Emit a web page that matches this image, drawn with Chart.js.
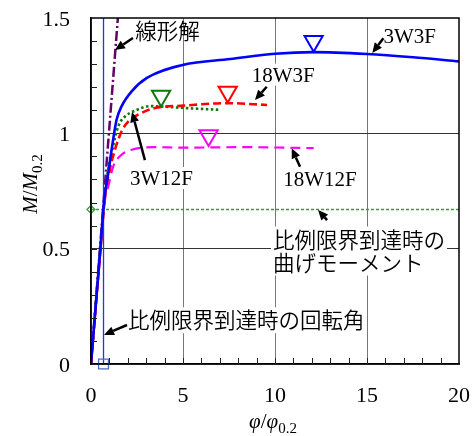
<!DOCTYPE html>
<html>
<head>
<meta charset="utf-8">
<script src="https://cdn.jsdelivr.net/npm/chart.js@4.4.1/dist/chart.umd.min.js"></script>
<style>
  html, body { margin: 0; padding: 0; background: #fff; }
  canvas { display: block; }
</style>
</head>
<body>
<canvas id="c" width="472" height="436"></canvas>
<script>
// Normalised moment–rotation curves (M/M0.2 against φ/φ0.2)
const phi3W3F  = [0, 0.5, 0.72, 0.94, 1.12, 1.39, 1.66, 2.21, 3.04, 5.03, 7.57, 10, 12.1, 15, 17.5, 20];
const m3W3F    = [0, 0.49, 0.712, 0.828, 0.929, 1.059, 1.117, 1.182, 1.24, 1.297, 1.322, 1.345, 1.352, 1.344, 1.33, 1.312];

const phi18W3F = [0, 0.5, 0.76, 0.98, 1.3, 1.66, 2.03, 2.57, 3.48, 5.03, 7.39, 9.57];
const m18W3F   = [0, 0.48, 0.727, 0.828, 0.929, 1.008, 1.052, 1.081, 1.11, 1.12, 1.131, 1.123];

const phi3W12F = [0, 0.5, 0.85, 1.12, 1.48, 1.85, 2.39, 3.2, 5.03, 7.03];
const m3W12F   = [0, 0.5, 0.799, 0.915, 1.03, 1.073, 1.098, 1.118, 1.11, 1.102];

const phi18W12F = [0, 0.5, 0.76, 0.94, 1.21, 1.66, 2.21, 3.48, 5.03, 8.11, 12.1];
const m18W12F   = [0, 0.49, 0.712, 0.77, 0.857, 0.907, 0.929, 0.94, 0.938, 0.94, 0.936];

// Linear (elastic) solution
const phiLinear = [0, 1.46];
const mLinear   = [0, 1.5];

// Peak markers: 3W3F, 3W12F, 18W3F, 18W12F
const peakPhi = [12.1, 3.81, 7.43, 6.39];
const peakM   = [1.399, 1.162, 1.179, 0.991];

// Proportional limit: rotation and bending moment
const propLimitPhi = 0.68;
const propLimitM   = 0.67;

// Axis ranges and tick steps
const xRange = [0, 20];
const yRange = [0, 1.5];
const xMajor = 5, xMinor = 1;
const yMajor = 0.5, yMinor = 0.1;

const pts = (xs, ys) => xs.map((v, i) => ({ x: v, y: ys[i] }));

const SERIF = "'Liberation Serif', serif";
const CJK = "'Noto Sans CJK JP DemiLight', 'Noto Sans CJK JP Light', 'Noto Sans CJK JP', 'Noto Sans CJK SC', sans-serif";

Chart.defaults.font.family = SERIF;
Chart.defaults.font.size = 21;
Chart.defaults.color = '#000';

const lineDs = (label, data, color, width, dash, order) => ({
  label, data, showLine: true, borderColor: color, backgroundColor: color,
  borderWidth: width, borderDash: dash, pointRadius: 0, fill: false,
  cubicInterpolationMode: 'monotone', order
});

const peakColors = ['#0000ff', '#117711', '#ff0000', '#ff00ff'];

const datasets = [
  lineDs('線形解', pts(phiLinear, mLinear), '#660066', 2.5, [10, 3, 2, 3], 8),
  lineDs('比例限界回転角', pts([propLimitPhi, propLimitPhi], [yRange[0], yRange[1]]), '#2233ff', 1.3, [], 7),
  lineDs('比例限界モーメント', pts([xRange[0], xRange[1]], [propLimitM, propLimitM]), '#3c9a3c', 1.5, [3, 2], 7),
  lineDs('18W12F', pts(phi18W12F, m18W12F), '#ff00ff', 2.2, [10, 6], 5),
  lineDs('3W12F', pts(phi3W12F, m3W12F), '#117711', 2.6, [2.5, 2.5], 4),
  lineDs('18W3F', pts(phi18W3F, m18W3F), '#ff0000', 2.6, [8, 4], 3),
  lineDs('3W3F', pts(phi3W3F, m3W3F), '#0000ff', 2.6, [], 2),
  {
    label: 'peaks', data: pts(peakPhi, peakM), showLine: false,
    pointStyle: 'triangle', rotation: 180, pointRadius: 10.5,
    pointBorderWidth: 2, pointBorderColor: peakColors,
    pointBackgroundColor: 'rgba(0,0,0,0)', order: 1
  },
  {
    label: 'limitRot', data: [{ x: propLimitPhi, y: 0 }], showLine: false,
    pointStyle: 'rect', pointRadius: 7, pointBorderWidth: 1.3,
    pointBorderColor: '#4a6fc0', pointBackgroundColor: 'rgba(0,0,0,0)',
    clip: false, order: 0
  },
  {
    label: 'limitMom', data: [{ x: 0, y: propLimitM }], showLine: false,
    pointStyle: 'rectRot', pointRadius: 4, pointBorderWidth: 1.3,
    pointBorderColor: '#3c9a3c', pointBackgroundColor: 'rgba(0,0,0,0)',
    clip: false, order: 0
  }
];

// Callout labels (anchor in data units) and their arrows
const callouts = [
  { lines: ['線形解'], font: CJK, x: 2.41, y: 1.409, box: false,
    arrow: [[2.28, 1.413], [1.30, 1.361]] },
  { lines: ['3W3F'], font: SERIF, x: 15.89, y: 1.39, box: false,
    arrow: [[15.89, 1.412], [15.29, 1.348]] },
  { lines: ['18W3F'], font: SERIF, x: 8.73, y: 1.224, box: true,
    arrow: [[9.55, 1.202], [8.91, 1.144]] },
  { lines: ['3W12F'], font: SERIF, x: 2.12, y: 0.776, box: true,
    arrow: [[2.93, 0.884], [2.23, 1.092]] },
  { lines: ['18W12F'], font: SERIF, x: 10.45, y: 0.772, box: true,
    arrow: [[11.36, 0.855], [10.91, 0.935]] },
  { lines: ['比例限界到達時の', '曲げモーメント'], font: CJK, x: 9.89, y: 0.505, box: true,
    lineGap: 23, arrow: [[12.83, 0.624], [12.34, 0.668]] },
  { lines: ['比例限界到達時の回転角'], font: CJK, x: 2.01, y: 0.155, box: true,
    arrow: [[1.957, 0.169], [0.707, 0.126]] }
];

const TICK_FONT = `22px ${SERIF}`;
const fmtX = v => String(v);
const fmtY = v => String(Math.round(v * 10) / 10);

function fontFor(c) {
  return c.font === CJK ? `300 21.5px ${CJK}` : `21px ${SERIF}`;
}

function calloutBox(ctx, c, xs, ys) {
  ctx.font = fontFor(c);
  const x0 = xs.getPixelForValue(c.x);
  const b0 = ys.getPixelForValue(c.y);
  const gap = c.lineGap || 0;
  let w = 0;
  c.lines.forEach(t => { w = Math.max(w, ctx.measureText(t).width); });
  const top = b0 - (c.font === CJK ? 19 : 16) - 2;
  const bottom = b0 + gap * (c.lines.length - 1) + (c.font === CJK ? 5 : 4);
  return { x0, b0, gap, left: x0 - 2, top, width: w + 4, height: bottom - top };
}

function drawArrow(ctx, x1, y1, x2, y2) {
  const ang = Math.atan2(y2 - y1, x2 - x1);
  const head = 10, half = 4.5;
  const bx = x2 - head * Math.cos(ang), by = y2 - head * Math.sin(ang);
  ctx.beginPath();
  ctx.moveTo(x1, y1);
  ctx.lineTo(bx, by);
  ctx.strokeStyle = '#000';
  ctx.lineWidth = 2.5;
  ctx.stroke();
  ctx.beginPath();
  ctx.moveTo(x2, y2);
  ctx.lineTo(bx + half * Math.sin(ang), by - half * Math.cos(ang));
  ctx.lineTo(bx - half * Math.sin(ang), by + half * Math.cos(ang));
  ctx.closePath();
  ctx.fillStyle = '#000';
  ctx.fill();
}

function drawRich(ctx, parts, x, baseline) {
  let total = 0;
  parts.forEach(p => { ctx.font = p.font; total += ctx.measureText(p.t).width; });
  let cx = x - total / 2;
  parts.forEach(p => {
    ctx.font = p.font;
    ctx.fillText(p.t, cx, baseline + (p.dy || 0));
    cx += ctx.measureText(p.t).width;
  });
}

const decorations = {
  id: 'decorations',
  beforeDatasetsDraw(chart) {
    const { ctx, scales: { x, y } } = chart;
    ctx.save();
    ctx.fillStyle = '#fff';
    callouts.filter(c => c.box).forEach(c => {
      const b = calloutBox(ctx, c, x, y);
      ctx.fillRect(b.left, b.top, b.width, b.height);
    });
    ctx.restore();
  },
  afterDatasetsDraw(chart) {
    const { ctx, chartArea: a, scales: { x, y } } = chart;
    ctx.save();

    // frame
    ctx.strokeStyle = '#000';
    ctx.lineWidth = 1.5;
    ctx.strokeRect(a.left, a.top, a.right - a.left, a.bottom - a.top);

    // inward minor ticks
    ctx.lineWidth = 1;
    ctx.strokeStyle = '#222';
    ctx.beginPath();
    for (let v = xRange[0] + xMinor; v < xRange[1]; v += xMinor) {
      const px = Math.round(x.getPixelForValue(v)) + 0.5;
      ctx.moveTo(px, a.bottom);
      ctx.lineTo(px, a.bottom - 6);
    }
    for (let k = 1; k * yMinor < yRange[1] - 1e-9; k++) {
      const py = Math.round(y.getPixelForValue(k * yMinor)) + 0.5;
      ctx.moveTo(a.left, py);
      ctx.lineTo(a.left + 6, py);
    }
    ctx.stroke();

    // major tick labels, from the scales' own tick lists
    ctx.fillStyle = '#000';
    ctx.font = TICK_FONT;
    ctx.textBaseline = 'alphabetic';
    ctx.textAlign = 'center';
    x.ticks.forEach(t => ctx.fillText(fmtX(t.value), x.getPixelForValue(t.value), a.bottom + 38));
    ctx.textAlign = 'right';
    y.ticks.forEach(t => ctx.fillText(fmtY(t.value), a.left - 21, y.getPixelForValue(t.value) + 7.5));

    // callouts
    ctx.textAlign = 'left';
    callouts.forEach(c => {
      const b = calloutBox(ctx, c, x, y);
      ctx.fillStyle = '#000';
      ctx.font = fontFor(c);
      c.lines.forEach((t, i) => ctx.fillText(t, b.x0, b.b0 + i * b.gap));
      const [[tx, ty], [hx, hy]] = c.arrow;
      drawArrow(ctx, x.getPixelForValue(tx), y.getPixelForValue(ty),
                x.getPixelForValue(hx), y.getPixelForValue(hy));
    });

    // axis titles
    ctx.fillStyle = '#000';
    const it = `italic 21px ${SERIF}`, rg = `21px ${SERIF}`, sub = `15px ${SERIF}`;
    drawRich(ctx, [
      { t: 'φ', font: it }, { t: '/', font: rg }, { t: 'φ', font: it },
      { t: '0.2', font: sub, dy: 5 }
    ], (a.left + a.right) / 2 - 2, 428);

    ctx.translate(37, (a.top + a.bottom) / 2 - 7);
    ctx.rotate(-Math.PI / 2);
    drawRich(ctx, [
      { t: 'M', font: it }, { t: '/', font: rg }, { t: 'M', font: it },
      { t: '0.2', font: sub, dy: 5 }
    ], 0, 0);
    ctx.restore();
  }
};

const zeroPadding = s => { s.paddingTop = 0; s.paddingBottom = 0; s.paddingLeft = 0; s.paddingRight = 0; };

new Chart(document.getElementById('c'), {
  type: 'scatter',
  data: { datasets },
  plugins: [decorations],
  options: {
    responsive: false,
    animation: false,
    devicePixelRatio: 1,
    layout: { padding: { top: 18, right: 13, left: 0, bottom: 0 } },
    plugins: { legend: { display: false }, tooltip: { enabled: false } },
    scales: {
      x: {
        type: 'linear', min: xRange[0], max: xRange[1],
        ticks: { stepSize: xMajor, display: false },
        grid: {
          drawTicks: false, lineWidth: 1,
          color: c => (c.tick && (c.tick.value === xRange[0] || c.tick.value === xRange[1])) ? 'rgba(0,0,0,0)' : '#777'
        },
        border: { display: true, color: '#000', width: 1.5 },
        afterFit: s => { s.height = 72; zeroPadding(s); }
      },
      y: {
        type: 'linear', min: yRange[0], max: yRange[1],
        ticks: { stepSize: yMajor, display: false },
        grid: {
          drawTicks: false, lineWidth: 1,
          color: c => (c.tick && (c.tick.value === yRange[0] || c.tick.value === yRange[1])) ? 'rgba(0,0,0,0)' : '#333'
        },
        border: { display: true, color: '#000', width: 1.5 },
        afterFit: s => { s.width = 91; zeroPadding(s); }
      }
    }
  }
});
</script>
</body>
</html>
